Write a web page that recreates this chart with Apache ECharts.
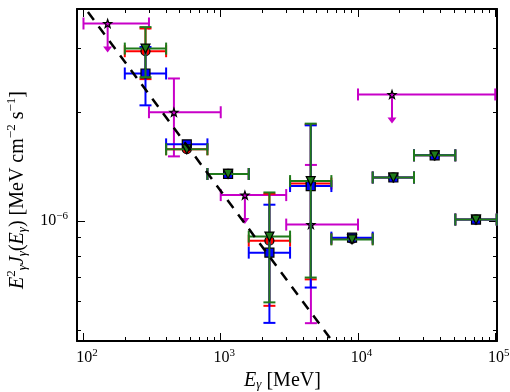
<!DOCTYPE html>
<html>
<head>
<meta charset="utf-8">
<script src="https://cdn.jsdelivr.net/npm/echarts@6/dist/echarts.min.js"></script>
<style>html,body{margin:0;padding:0;background:#fff}#chart{width:510px;height:392px}</style>
</head>
<body>
<div id="chart"></div>
<script>
// energy bins (MeV) shared by the three binned spectra
var binE=[283,566,1131,2263,4525,9051,18102,36204,72408];
var binLo=[200,400,800,1600,3200,6400,12800,25600,51200];
var binHi=[400,800,1600,3200,6400,12800,25600,51200,102400];
// E^2 J in MeV cm^-2 s^-1 ; null = no vertical error drawn
var blueF=[2.56e-6,1.63e-6,1.35e-6,8.18e-7,1.25e-6,9.0e-7,1.32e-6,1.52e-6,1.01e-6];
var blueUp=[3.03e-6,null,null,1.11e-6,1.84e-6,null,null,null,null];
var blueDn=[2.09e-6,null,null,5.23e-7,6.55e-7,null,null,null,null];
var redF=[2.95e-6,1.58e-6,1.35e-6,8.83e-7,1.27e-6,8.93e-7,1.32e-6,1.52e-6,1.01e-6];
var redUp=[3.41e-6,null,null,1.19e-6,1.85e-6,null,null,null,null];
var redDn=[2.47e-6,null,null,5.83e-7,6.90e-7,null,null,null,null];
var greenF=[3.00e-6,1.58e-6,1.35e-6,9.06e-7,1.29e-6,8.9e-7,1.32e-6,1.52e-6,1.01e-6];
var greenUp=[3.44e-6,null,null,1.20e-6,1.86e-6,null,null,null,null];
var greenDn=[2.50e-6,null,null,5.96e-7,6.98e-7,null,null,null,null];
// magenta stars, wide bins, magUL 1 = upper limit
var magE=[150,456,1500,4540,17700];
var magLo=[100,300,1000,3000,10000];
var magHi=[300,1000,3000,10000,100000];
var magF=[3.52e-6,2.0e-6,1.18e-6,9.78e-7,2.24e-6];
var magUp=[null,2.48e-6,null,1.43e-6,null];
var magDn=[null,1.51e-6,null,5.22e-7,null];
var magUL=[1,0,1,0,1];
// dashed power law end points
var lineE=[90,100000];
var lineF=[4.15e-6,1.15e-7];
// axes
var xRange=[89.7,103000];
var yRange=[4.66e-7,3.86e-6];
var xMajor=[100,1000,10000,100000];
var yMajor=[1e-6];
var yMinor=[5e-7,6e-7,7e-7,8e-7,9e-7,2e-6,3e-6];

var lg=Math.log10;
var xMinor=[];
for(var d=100;d<100000;d*=10){for(var m=2;m<10;m++)xMinor.push(m*d);}

var FONT='Liberation Serif';
var GREEN='#1f7a1a',RED='#ff0000',BLUE='#0000ff',MAG='#c800c8';

function errData(E,lo,hi,F,up,dn,ul){
    var out=[];
    for(var i=0;i<E.length;i++){
        out.push([lg(E[i]),lg(F[i]),lg(lo[i]),lg(hi[i]),
            dn[i]==null?lg(F[i]):lg(dn[i]),up[i]==null?lg(F[i]):lg(up[i]),ul?ul[i]:0]);
    }
    return out;
}
function ptData(E,F){
    var out=[];
    for(var i=0;i<E.length;i++)out.push([lg(E[i]),lg(F[i])]);
    return out;
}
function errRender(color){
    return function(params,api){
        var c=api.coord([api.value(0),api.value(1)]);
        var l=api.coord([api.value(2),api.value(1)]);
        var r=api.coord([api.value(3),api.value(1)]);
        var dn=api.coord([api.value(0),api.value(4)]);
        var up=api.coord([api.value(0),api.value(5)]);
        var st={stroke:color,lineWidth:2};
        var cap=6;
        var ch=[
            {type:'line',shape:{x1:l[0],y1:c[1],x2:r[0],y2:c[1]},style:st},
            {type:'line',shape:{x1:l[0],y1:c[1]-cap,x2:l[0],y2:c[1]+cap},style:st},
            {type:'line',shape:{x1:r[0],y1:c[1]-cap,x2:r[0],y2:c[1]+cap},style:st}
        ];
        if(dn[1]-up[1]>1){
            ch.push({type:'line',shape:{x1:c[0],y1:up[1],x2:c[0],y2:dn[1]},style:st});
            ch.push({type:'line',shape:{x1:c[0]-cap,y1:up[1],x2:c[0]+cap,y2:up[1]},style:st});
            ch.push({type:'line',shape:{x1:c[0]-cap,y1:dn[1],x2:c[0]+cap,y2:dn[1]},style:st});
        }
        if(api.value(6)){
            ch.push({type:'line',shape:{x1:c[0],y1:c[1],x2:c[0],y2:c[1]+24},style:st});
            ch.push({type:'polygon',shape:{points:[[c[0]-4.5,c[1]+23],[c[0]+4.5,c[1]+23],[c[0],c[1]+29]]},style:{fill:color}});
        }
        return {type:'group',children:ch};
    };
}
function errSeries(color,data,z){
    return {type:'custom',renderItem:errRender(color),data:data,encode:{x:0,y:1},z:z,silent:true};
}
function ptSeries(color,data,symbol,size,z,extra){
    var s={type:'scatter',data:data,symbol:symbol,symbolSize:size,z:z,silent:true,
        itemStyle:{color:color,borderColor:'#000',borderWidth:1.2,opacity:1}};
    for(var k in extra)s[k]=extra[k];
    return s;
}
var star='path://M0,-10L2.35,-3.24L9.51,-3.09L3.8,1.24L5.88,8.09L0,4L-5.88,8.09L-3.8,1.24L-9.51,-3.09L-2.35,-3.24Z';

var tickStyle={color:'#000',width:1};
function xAxis(pos,vals,len,main){
    return {type:'value',min:lg(xRange[0]),max:lg(xRange[1]),position:pos,
        splitLine:{show:false},
        axisLine:{show:main,onZero:false,lineStyle:{color:'#000',width:2}},
        axisTick:{show:true,inside:true,length:len,customValues:vals.map(lg),lineStyle:tickStyle},
        axisLabel:{show:false}};
}
function yAxis(pos,vals,len,main){
    return {type:'value',min:lg(yRange[0]),max:lg(yRange[1]),position:pos,
        splitLine:{show:false},
        axisLine:{show:main,onZero:false,lineStyle:{color:'#000',width:2}},
        axisTick:{show:true,inside:true,length:len,customValues:vals.map(lg),lineStyle:tickStyle},
        axisLabel:{show:false}};
}
var xs=[xAxis('bottom',xMajor,8,true),xAxis('bottom',xMinor,4,false),xAxis('top',xMajor,8,true),xAxis('top',xMinor,4,false)];
var ys=[yAxis('left',yMajor,8,true),yAxis('left',yMinor,4,false),yAxis('right',yMajor,8,true),yAxis('right',yMinor,4,false)];
xs[0].axisLabel={show:true,customValues:xMajor.map(lg),margin:7,padding:[0,0,0,7],
    formatter:function(v){return '{b|10}{s|'+Math.round(v)+'}';},
    rich:{b:{fontFamily:FONT,fontSize:16,color:'#000',lineHeight:19,verticalAlign:'middle'},
          s:{fontFamily:FONT,fontSize:11,color:'#000',lineHeight:13,verticalAlign:'top'}}};
xs[0].name='{i|E}{sub|γ}{r| [MeV]}';
xs[0].nameLocation='middle';
xs[0].nameGap=27;
xs[0].nameTextStyle={padding:[0,9,0,0],rich:{
    i:{fontFamily:FONT,fontStyle:'italic',fontSize:20,color:'#000',lineHeight:22,verticalAlign:'middle'},
    sub:{fontFamily:FONT,fontStyle:'italic',fontSize:13,color:'#000',lineHeight:14,verticalAlign:'bottom'},
    r:{fontFamily:FONT,fontSize:20,color:'#000',lineHeight:22,verticalAlign:'middle'}}};
ys[0].axisLabel={show:true,customValues:yMajor.map(lg),margin:9,
    formatter:function(v){return '{b|10}{s|−'+Math.round(-v)+'}';},
    rich:{b:{fontFamily:FONT,fontSize:16,color:'#000',lineHeight:20,verticalAlign:'middle'},
          s:{fontFamily:FONT,fontSize:11,color:'#000',lineHeight:11,verticalAlign:'top'}}};
ys[0].name='{i|E}{sup|2}{sub|γ}{i|J}{sub|γ}{r|(}{i|E}{sub|γ}{r|) [MeV cm}{sup|−2}{r| s}{sup|−1}{r|]}';
ys[0].nameLocation='middle';
ys[0].nameGap=46;
ys[0].nameTextStyle={padding:[0,30,0,0],rich:{
    i:{fontFamily:FONT,fontStyle:'italic',fontSize:20,color:'#000',lineHeight:24,verticalAlign:'middle'},
    sub:{fontFamily:FONT,fontStyle:'italic',fontSize:13,color:'#000',lineHeight:14,verticalAlign:'bottom'},
    sup:{fontFamily:FONT,fontSize:13,color:'#000',lineHeight:14,verticalAlign:'top'},
    r:{fontFamily:FONT,fontSize:20,color:'#000',lineHeight:24,verticalAlign:'middle'}}};

var option={
    animation:false,
    backgroundColor:'#fff',
    grid:{left:77,right:13,top:9,bottom:51,outerBoundsMode:'none'},
    xAxis:xs,
    yAxis:ys,
    series:[
        errSeries(MAG,errData(magE,magLo,magHi,magF,magUp,magDn,magUL),2),
        ptSeries(MAG,ptData(magE,magF),star,8,2),
        errSeries(RED,errData(binE,binLo,binHi,redF,redUp,redDn),3),
        ptSeries(RED,ptData(binE,redF),'circle',9,3),
        errSeries(BLUE,errData(binE,binLo,binHi,blueF,blueUp,blueDn),4),
        ptSeries(BLUE,ptData(binE,blueF),'rect',9,4),
        errSeries(GREEN,errData(binE,binLo,binHi,greenF,greenUp,greenDn),5),
        ptSeries(GREEN,ptData(binE,greenF),'triangle',9,5,{symbolRotate:180}),
        {type:'line',data:ptData(lineE,lineF),symbol:'none',clip:true,z:10,silent:true,
            lineStyle:{color:'#000',width:2.5,type:[10,8]}}
    ]
};
var chart=echarts.init(document.getElementById('chart'),null,{renderer:'canvas'});
chart.setOption(option);
</script>
</body>
</html>
